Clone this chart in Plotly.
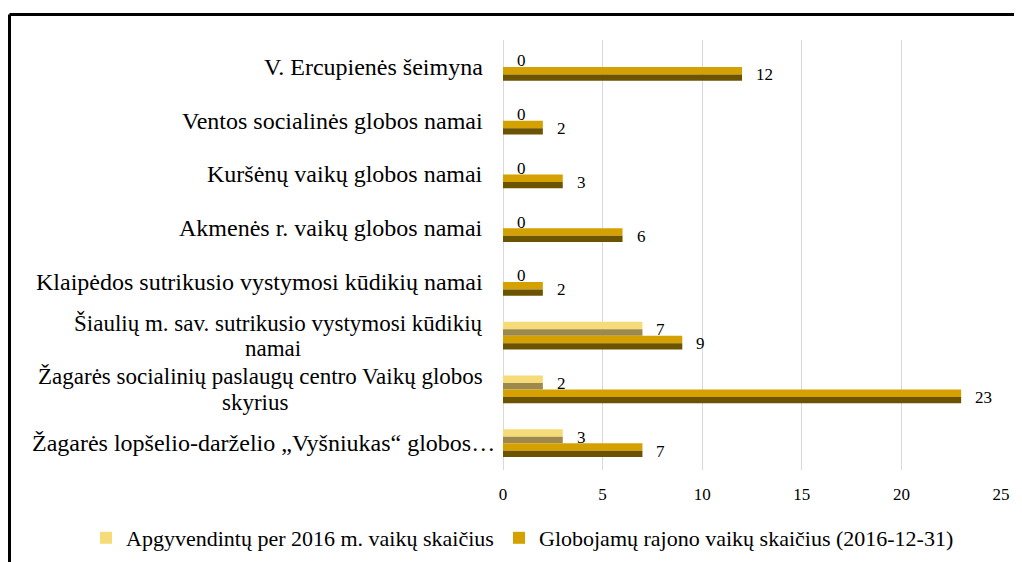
import plotly.graph_objects as go

categories = [
    "V. Ercupienės šeimyna",
    "Ventos socialinės globos namai",
    "Kuršėnų vaikų globos namai",
    "Akmenės r. vaikų globos namai",
    "Klaipėdos sutrikusio vystymosi kūdikių namai",
    "Šiaulių m. sav. sutrikusio vystymosi kūdikių namai",
    "Žagarės socialinių paslaugų centro Vaikų globos skyrius",
    "Žagarės lopšelio-darželio „Vyšniukas“ globos…",
]
# tick label lines as printed in the chart
category_label_lines = [
    ["V. Ercupienės šeimyna"],
    ["Ventos socialinės globos namai"],
    ["Kuršėnų vaikų globos namai"],
    ["Akmenės r. vaikų globos namai"],
    ["Klaipėdos sutrikusio vystymosi kūdikių namai"],
    ["Šiaulių m. sav. sutrikusio vystymosi kūdikių", "namai"],
    ["Žagarės socialinių paslaugų centro Vaikų globos", "skyrius"],
    ["Žagarės lopšelio-darželio „Vyšniukas“ globos…"],
]
apgyvendintu = [0, 0, 0, 0, 0, 7, 2, 3]
globojamu = [12, 2, 3, 6, 2, 9, 23, 7]
series_names = [
    "Apgyvendintų per 2016 m. vaikų skaičius",
    "Globojamų rajono vaikų skaičius (2016-12-31)",
]
x_ticks = [0, 5, 10, 15, 20, 25]

FONT = "Liberation Serif, Times New Roman, serif"
t = 0.26  # bar thickness (category units)
top_frac = 0.55

light_top, light_bot = "#F6DC78", "#9C894B"
dark_top, dark_bot = "#D4A100", "#6C5300"

L, R, T, B = 495, 21, 32, 92
W, H = 1014, 554
PW = W - L - R

fig = go.Figure()

def add_bevel_bar(values, name, base_offset, c_top, c_bot, lg, legend_id):
    h_top = t * top_frac
    h_bot = t - h_top
    fig.add_trace(go.Bar(
        y=categories, x=values, orientation="h", name=name,
        offset=base_offset, width=h_top, marker=dict(color=c_top, line=dict(width=0)),
        legendgroup=lg, showlegend=True, legend=legend_id,
    ))
    fig.add_trace(go.Bar(
        y=categories, x=values, orientation="h", name=name,
        offset=base_offset + h_top, width=h_bot, marker=dict(color=c_bot, line=dict(width=0)),
        legendgroup=lg, showlegend=False, legend=legend_id,
    ))

add_bevel_bar(apgyvendintu, series_names[0], -t, light_top, light_bot, "a", "legend")
add_bevel_bar(globojamu, series_names[1], 0.0, dark_top, dark_bot, "g", "legend2")

annotations = []
for cat, v in zip(categories, apgyvendintu):
    annotations.append(dict(x=v, y=cat, xref="x", yref="y", text=str(v), showarrow=False,
                            xanchor="left", xshift=12, yshift=6,
                            font=dict(family=FONT, size=17, color="#000")))
for cat, v in zip(categories, globojamu):
    annotations.append(dict(x=v, y=cat, xref="x", yref="y", text=str(v), showarrow=False,
                            xanchor="left", xshift=12, yshift=-8,
                            font=dict(family=FONT, size=17, color="#000")))

label_right = -18  # px left of plot area
second_line_center = {5: 273, 6: 255}  # screen px centre of the wrapped block
for i, (cat, lines) in enumerate(zip(categories, category_label_lines)):
    if len(lines) == 1:
        shift = -6 if i == len(categories) - 1 else label_right
        annotations.append(dict(x=0, y=cat, xref="paper", yref="y", text=lines[0], showarrow=False,
                                xanchor="right", yanchor="middle", xshift=shift,
                                font=dict(family=FONT, size=24, color="#000")))
    else:
        annotations.append(dict(x=0, y=cat, xref="paper", yref="y", text=lines[0], showarrow=False,
                                xanchor="right", yanchor="middle", xshift=label_right, yshift=13,
                                font=dict(family=FONT, size=23, color="#000")))
        cx = (second_line_center[i] - 8 - L) / PW
        annotations.append(dict(x=cx, y=cat, xref="paper", yref="y", text=lines[1], showarrow=False,
                                xanchor="center", yanchor="middle", yshift=-13,
                                font=dict(family=FONT, size=23, color="#000")))

fig.update_layout(
    width=W, height=H,
    margin=dict(l=L, r=R, t=T, b=B),
    paper_bgcolor="white", plot_bgcolor="white",
    barmode="overlay",
    font=dict(family=FONT, size=17, color="#000"),
    annotations=annotations,
    legend=dict(orientation="h", xref="container", yref="container",
                x=78 / W, y=1 - 530 / H, xanchor="left", yanchor="middle",
                font=dict(family=FONT, size=22, color="#000"), itemwidth=30),
    legend2=dict(orientation="h", xref="container", yref="container",
                 x=491 / W, y=1 - 530 / H, xanchor="left", yanchor="middle",
                 font=dict(family=FONT, size=22, color="#000"), itemwidth=30),
    shapes=[
        dict(type="line", xref="paper", yref="paper", x0=(1.5 - L) / PW, x1=1.2,
             y0=(H - B - 6.5) / (H - T - B), y1=(H - B - 6.5) / (H - T - B),
             line=dict(color="black", width=3)),
        dict(type="line", xref="paper", yref="paper", x0=(1.5 - L) / PW, x1=(1.5 - L) / PW,
             y0=(H - B - 6.5) / (H - T - B), y1=-0.3,
             line=dict(color="black", width=3)),
    ],
)
fig.update_xaxes(range=[0, 25], tickvals=x_ticks, showgrid=True, gridcolor="#D9D9D9", gridwidth=1,
                 zeroline=True, zerolinecolor="#D9D9D9", zerolinewidth=1, showline=False,
                 ticks="", ticklabelstandoff=12, tickfont=dict(family=FONT, size=17))
fig.update_yaxes(categoryorder="array", categoryarray=categories, autorange="reversed",
                 showticklabels=False, showgrid=False, zeroline=False, showline=False, ticks="")

fig.write_html("out.html")
